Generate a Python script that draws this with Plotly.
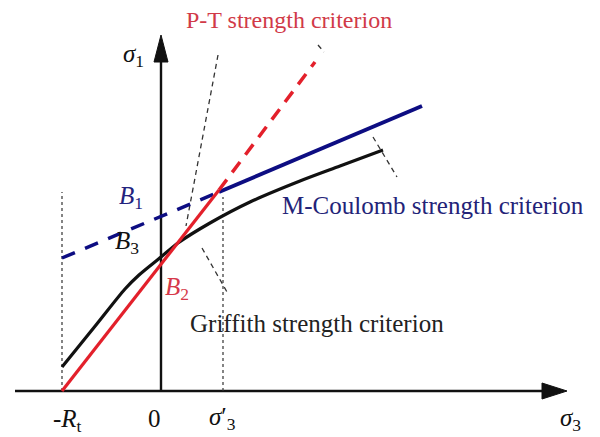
import plotly.graph_objects as go

# Principal stress plane (sigma_3 horizontal, sigma_1 vertical), schematic units
Rt = 99            # tensile strength magnitude, -R_t on the sigma_3 axis
s3_prime = 62      # sigma'_3 mark on the sigma_3 axis

# P-T criterion: straight line from (-R_t, 0); solid up to the M-C intersection, dashed beyond
pt_solid_s3 = [-99, 58]
pt_solid_s1 = [0, 201]
pt_dash_s3 = [58, 154]
pt_dash_s1 = [201, 329]

# Mohr-Coulomb criterion: dashed below the intersection, solid above
mc_dash_s3 = [-99, 58]
mc_dash_s1 = [133, 199]
mc_solid_s3 = [58, 261]
mc_solid_s1 = [199, 285]

# Griffith criterion curve
gr_s3 = [-99, -65, -36, -22, 0, 17, 49, 89, 139, 179, 222]
gr_s1 = [24, 66, 102, 116, 134, 148, 168, 189, 210, 225, 241]

# auxiliary thin dashed tangent line
tan_s3 = [57, 25]
tan_s1 = [336, 165]

# leader lines for the curve labels
gr_leader_s3 = [41, 66]
gr_leader_s1 = [143, 99]
mc_leader_s3 = [212, 236]
mc_leader_s1 = [254, 214]
pt_leader_s3 = [157, 163]
pt_leader_s1 = [346, 339]

RED = "#e3202b"
BLUE = "#0d0d82"
BLACK = "#111111"
SERIF = "Liberation Serif, Times New Roman, serif"

fig = go.Figure()


def line(x, y, color, width, dash="solid"):
    fig.add_trace(go.Scatter(x=x, y=y, mode="lines", hoverinfo="skip",
                             line=dict(color=color, width=width, dash=dash)))


# axes with arrowheads
line([-146, 384], [0, 0], BLACK, 2.4)
line([0, 0], [0, 330], BLACK, 2.4)
fig.add_trace(go.Scatter(x=[406, 381, 381, 406], y=[0, 8, -8, 0], mode="lines",
                         fill="toself", fillcolor=BLACK, line=dict(color=BLACK, width=1),
                         hoverinfo="skip"))
fig.add_trace(go.Scatter(x=[0, -7, 7, 0], y=[356, 329, 329, 356], mode="lines",
                         fill="toself", fillcolor=BLACK, line=dict(color=BLACK, width=1),
                         hoverinfo="skip"))

# vertical dotted guides at -R_t and sigma'_3
line([-Rt, -Rt], [0, 199], "#333333", 1.2, "dot")
line([s3_prime, s3_prime], [0, 194], "#333333", 1.2, "dot")

# thin dashed helper lines
line(tan_s3, tan_s1, "#333333", 1.3, "5px,4px")
line(gr_leader_s3, gr_leader_s1, "#333333", 1.3, "5px,4px")
line(mc_leader_s3, mc_leader_s1, "#333333", 1.3, "5px,4px")
line(pt_leader_s3, pt_leader_s1, "#333333", 1.3, "5px,4px")

# criteria
line(mc_dash_s3, mc_dash_s1, BLUE, 3.5, "14px,11px")
line(mc_solid_s3, mc_solid_s1, BLUE, 4)
fig.add_trace(go.Scatter(x=gr_s3, y=gr_s1, mode="lines", hoverinfo="skip",
                         line=dict(color=BLACK, width=3.2, shape="spline", smoothing=0.8)))
line(pt_solid_s3, pt_solid_s1, RED, 3.2)
line(pt_dash_s3, pt_dash_s1, RED, 3.5, "13px,9px")


def label(x, y, text, color=BLACK, size=20):
    fig.add_annotation(x=x, y=y, xref="x", yref="y", text=text, showarrow=False,
                       font=dict(family=SERIF, size=size, color=color))


label(128, 371, "P-T strength criterion", "#d13a48", 24)
label(272, 186, "M-Coulomb strength criterion", "#232378", 25)
label(156, 68, "Griffith strength criterion", "#222222", 25)

label(-28, 336, "<i>σ</i><sub>1</sub>", BLACK, 25)
label(409, -28, "<i>σ</i><sub>3</sub>", BLACK, 25)
label(-30, 194, "<i>B</i><sub>1</sub>", "#23237e", 25)
label(-34, 149, "<i>B</i><sub>3</sub>", BLACK, 25)
label(16, 103, "<i>B</i><sub>2</sub>", "#d6384a", 25)
label(-94, -29, "-<i>R</i><sub>t</sub>", BLACK, 25)
label(-7, -27, "0", BLACK, 25)
label(61, -27, "<i>σ</i>′<sub>3</sub>", BLACK, 25)

fig.update_layout(
    width=600, height=437,
    margin=dict(l=0, r=0, t=0, b=0),
    paper_bgcolor="white", plot_bgcolor="white",
    showlegend=False,
    xaxis=dict(range=[-161, 439], visible=False, fixedrange=True),
    yaxis=dict(range=[-46, 391], visible=False, fixedrange=True),
)

fig.write_html("out.html")
